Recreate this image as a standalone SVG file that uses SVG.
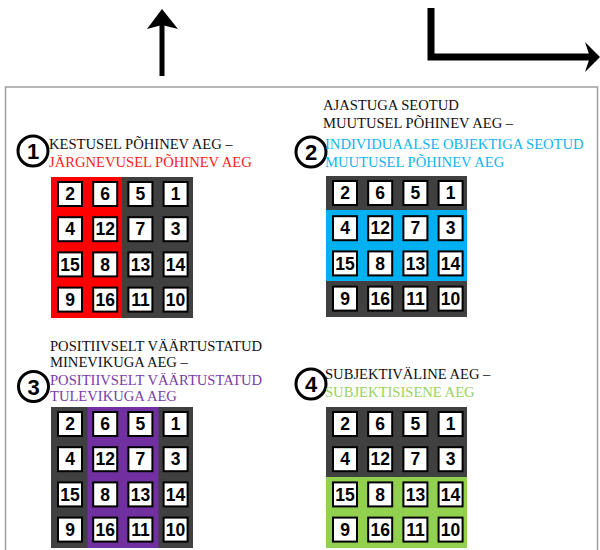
<svg xmlns="http://www.w3.org/2000/svg" width="600" height="550" viewBox="0 0 600 550">
<defs>
<style>
.frame{fill:none;stroke:#a0a0a0;stroke-width:1.5}
.t{font-family:"Liberation Serif","Times New Roman",serif;font-size:14.6px;fill:#111}
.red{fill:#ff1a1a}.blue{fill:#12b4ee}.purple{fill:#7a3ca8}.green{fill:#96d35f}
.circ{fill:#fff;stroke:#000;stroke-width:3}
.cn{font-family:"Liberation Sans",Arial,sans-serif;font-weight:bold;font-size:22px;text-anchor:middle;fill:#000}
.dark{fill:#404040}
.cell{fill:#fff;stroke:#000;stroke-width:2}
.num{font-family:"Liberation Sans",Arial,sans-serif;font-weight:bold;font-size:17.5px;text-anchor:middle;fill:#000}
.arrow{fill:none;stroke:#000}
</style>
<g id="cells">
<rect class="cell" x="7" y="5" width="24" height="24"/><rect class="cell" x="42.2" y="5" width="24" height="24"/><rect class="cell" x="77.4" y="5" width="24" height="24"/><rect class="cell" x="112.6" y="5" width="24" height="24"/>
<rect class="cell" x="7" y="40.2" width="24" height="24"/><rect class="cell" x="42.2" y="40.2" width="24" height="24"/><rect class="cell" x="77.4" y="40.2" width="24" height="24"/><rect class="cell" x="112.6" y="40.2" width="24" height="24"/>
<rect class="cell" x="7" y="75.4" width="24" height="24"/><rect class="cell" x="42.2" y="75.4" width="24" height="24"/><rect class="cell" x="77.4" y="75.4" width="24" height="24"/><rect class="cell" x="112.6" y="75.4" width="24" height="24"/>
<rect class="cell" x="7" y="110.6" width="24" height="24"/><rect class="cell" x="42.2" y="110.6" width="24" height="24"/><rect class="cell" x="77.4" y="110.6" width="24" height="24"/><rect class="cell" x="112.6" y="110.6" width="24" height="24"/>
<text class="num" x="19" y="23.2">2</text><text class="num" x="54.2" y="23.2">6</text><text class="num" x="89.4" y="23.2">5</text><text class="num" x="124.6" y="23.2">1</text>
<text class="num" x="19" y="58.4">4</text><text class="num" x="54.2" y="58.4">12</text><text class="num" x="89.4" y="58.4">7</text><text class="num" x="124.6" y="58.4">3</text>
<text class="num" x="19" y="93.6">15</text><text class="num" x="54.2" y="93.6">8</text><text class="num" x="89.4" y="93.6">13</text><text class="num" x="124.6" y="93.6">14</text>
<text class="num" x="19" y="128.8">9</text><text class="num" x="54.2" y="128.8">16</text><text class="num" x="89.4" y="128.8">11</text><text class="num" x="124.6" y="128.8">10</text>
</g>
</defs>
<rect width="600" height="550" fill="#fff"/>
<rect class="frame" x="5.5" y="87" width="592" height="480"/>

<g id="connectors">
<line class="arrow" x1="162" y1="76" x2="162" y2="24" stroke-width="5"/>
<polygon points="162,9 178,29 162,25 147,29" fill="#000"/>
<path class="arrow" d="M431,8 V57 H590" stroke-width="7"/>
<polygon points="600,57 585,42 590,57 585,72" fill="#000"/>
</g>

<g id="panel1">
<circle class="circ" cx="33" cy="151" r="15"/>
<text class="cn" x="33" y="159">1</text>
<text class="t" x="49" y="149">KESTUSEL PÕHINEV AEG –</text>
<text class="t red" x="49" y="167">JÄRGNEVUSEL PÕHINEV AEG</text>
<g transform="translate(51,177)">
<rect class="dark" width="142" height="141"/>
<rect fill="#ff0000" width="71" height="141"/>
<use href="#cells"/>
</g>
</g>

<g id="panel2">
<circle class="circ" cx="311" cy="152" r="15"/>
<text class="cn" x="311" y="160">2</text>
<text class="t" x="323" y="110">AJASTUGA SEOTUD</text>
<text class="t" x="323" y="128">MUUTUSEL PÕHINEV AEG –</text>
<text class="t blue" x="325" y="149">INDIVIDUAALSE OBJEKTIGA SEOTUD</text>
<text class="t blue" x="325" y="167">MUUTUSEL PÕHINEV AEG</text>
<g transform="translate(326,176)">
<rect class="dark" width="141" height="141"/>
<rect fill="#00b0f0" y="34" width="141" height="71"/>
<use href="#cells"/>
</g>
</g>

<g id="panel3">
<circle class="circ" cx="33.5" cy="386.5" r="15"/>
<text class="cn" x="33.5" y="394.5">3</text>
<text class="t" x="50" y="351">POSITIIVSELT VÄÄRTUSTATUD</text>
<text class="t" x="50" y="367">MINEVIKUGA AEG –</text>
<text class="t purple" x="50" y="385">POSITIIVSELT VÄÄRTUSTATUD</text>
<text class="t purple" x="50" y="401">TULEVIKUGA AEG</text>
<g transform="translate(51,407)">
<rect class="dark" width="142" height="141"/>
<rect fill="#7030a0" x="36.5" width="71" height="141"/>
<use href="#cells"/>
</g>
</g>

<g id="panel4">
<circle class="circ" cx="311" cy="384" r="15"/>
<text class="cn" x="311" y="392">4</text>
<text class="t" x="325" y="379">SUBJEKTIVÄLINE AEG –</text>
<text class="t green" x="325" y="397">SUBJEKTISISENE AEG</text>
<g transform="translate(326,407)">
<rect class="dark" width="141" height="141"/>
<rect fill="#92d050" y="70" width="141" height="71"/>
<use href="#cells"/>
</g>
</g>
</svg>
